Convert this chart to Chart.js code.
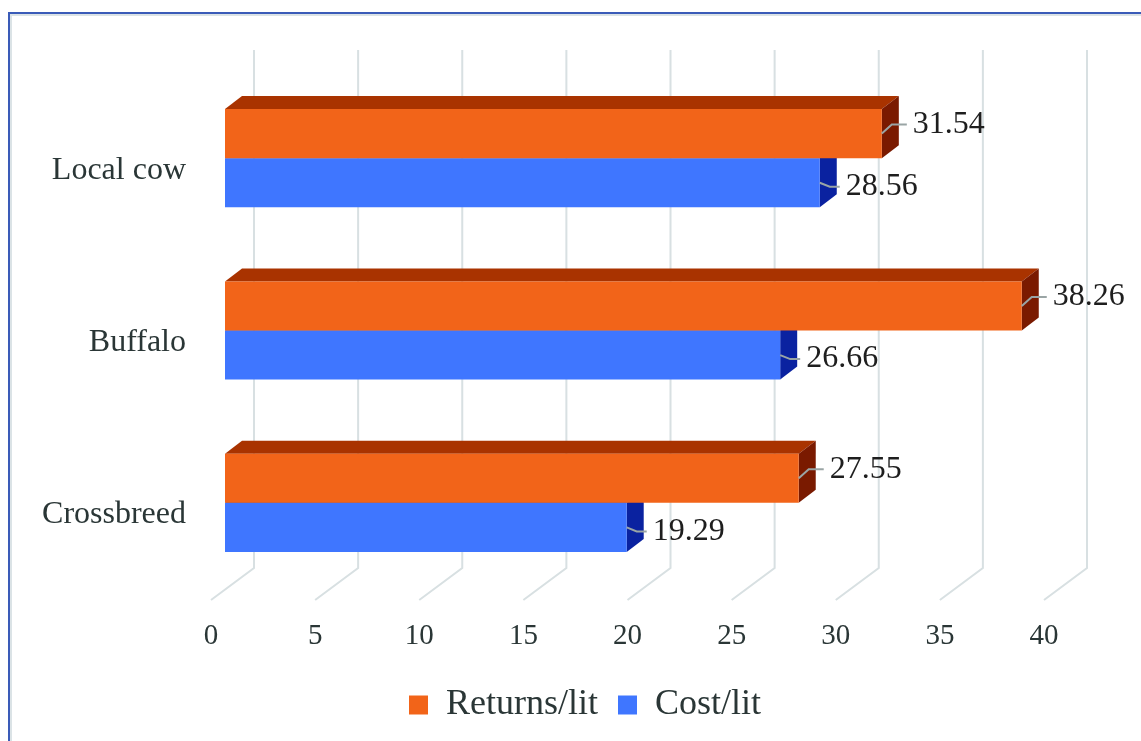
<!DOCTYPE html>
<html><head><meta charset="utf-8">
<script src="https://cdn.jsdelivr.net/npm/chart.js@4"></script>
<style>
html,body{margin:0;padding:0;background:#fff;overflow:hidden;width:1141px;height:741px}
#frame{position:absolute;left:8px;top:12px;width:1200px;height:800px;border:2px solid #3a5bb8;box-shadow:inset 2px 2px 0 #dbe3e6;}
#wrap{position:absolute;left:0;top:0;width:1141px;height:741px}
</style></head><body>
<div id="frame"></div>
<div id="wrap"><canvas id="c" width="1141" height="741"></canvas></div>
<script>
const categories = ['Local cow', 'Buffalo', 'Crossbreed'];
const returnsPerLit = [31.54, 38.26, 27.55];
const costPerLit = [28.56, 26.66, 19.29];
const xTickValues = [0, 5, 10, 15, 20, 25, 30, 35, 40];

const FONT = '"Liberation Serif", "Times New Roman", serif';
const TEXT = '#2a3636';
const FRONT = ['#F26419', '#3F76FF'];
const TOPC = ['#A93300', '#0B27A6'];
const SIDEC = ['#7A1A00', '#0A22A0'];

const threeD = {
  id: 'threeD',
  afterLayout(chart) {
    // let the category labels extend to the left of the (narrow) axis box
    chart.scales.y._computeLabelArea = function () { return undefined; };
  },
  beforeDatasetsDraw(chart) {
    const ctx = chart.ctx, xs = chart.scales.x, a = chart.chartArea;
    ctx.save();
    ctx.strokeStyle = '#d8e0e2';
    ctx.lineWidth = 2;
    xs.ticks.forEach(t => {
      const px = xs.getPixelForValue(t.value);
      ctx.beginPath();
      ctx.moveTo(px + 29, a.top - 22);
      ctx.lineTo(px + 29, a.bottom - 21);
      ctx.lineTo(px - 14, a.bottom + 11);
      ctx.stroke();
    });
    const dx = 17, dy = 13;
    for (let i = chart.data.datasets.length - 1; i >= 0; i--) {
      const meta = chart.getDatasetMeta(i);
      meta.data.forEach(bar => {
        const p = bar.getProps(['x', 'y', 'base', 'height'], true);
        const top = p.y - p.height / 2, bottom = p.y + p.height / 2;
        ctx.fillStyle = TOPC[i];
        ctx.beginPath();
        ctx.moveTo(p.base, top); ctx.lineTo(p.x, top);
        ctx.lineTo(p.x + dx, top - dy); ctx.lineTo(p.base + dx, top - dy);
        ctx.closePath(); ctx.fill();
        ctx.fillStyle = SIDEC[i];
        ctx.beginPath();
        ctx.moveTo(p.x, top); ctx.lineTo(p.x + dx, top - dy);
        ctx.lineTo(p.x + dx, bottom - dy); ctx.lineTo(p.x, bottom);
        ctx.closePath(); ctx.fill();
      });
    }
    ctx.restore();
  },
  afterDatasetsDraw(chart) {
    const ctx = chart.ctx;
    ctx.save();
    ctx.font = '32px ' + FONT;
    ctx.textAlign = 'left';
    ctx.textBaseline = 'middle';
    chart.data.datasets.forEach((ds, i) => {
      const meta = chart.getDatasetMeta(i);
      meta.data.forEach((bar, j) => {
        const p = bar.getProps(['x', 'y'], true);
        const lx = p.x + (i === 0 ? 31 : 26);
        const ly = p.y + (i === 0 ? -9 : 4);
        ctx.strokeStyle = '#9aa5a5';
        ctx.lineWidth = 2;
        ctx.beginPath();
        ctx.moveTo(p.x, p.y);
        ctx.lineTo(p.x + 10, ly);
        ctx.lineTo(lx - 6, ly);
        ctx.stroke();
        ctx.fillStyle = '#1e1e1e';
        ctx.fillText(ds.data[j].toFixed(2), lx, ly);
      });
    });
    ctx.restore();
  }
};

new Chart(document.getElementById('c'), {
  type: 'bar',
  data: {
    labels: categories,
    datasets: [
      { label: 'Returns/lit', data: returnsPerLit, backgroundColor: FRONT[0], categoryPercentage: 0.57, barPercentage: 1 },
      { label: 'Cost/lit', data: costPerLit, backgroundColor: FRONT[1], categoryPercentage: 0.57, barPercentage: 1 }
    ]
  },
  options: {
    indexAxis: 'y',
    responsive: false,
    animation: false,
    layout: { padding: { left: 112, right: 83, top: 72, bottom: 8 } },
    scales: {
      x: {
        min: 0, max: 40,
        afterBuildTicks: s => { s.ticks = xTickValues.map(v => ({ value: v })); },
        grid: { display: false, drawTicks: false },
        border: { display: false },
        ticks: { labelOffset: -14, padding: 30, color: TEXT, font: { family: FONT, size: 29 } },
        afterFit: s => { s.height = 78; }
      },
      y: {
        grid: { display: false, drawTicks: false },
        border: { display: false },
        ticks: { padding: 39, labelOffset: 12, color: TEXT, font: { family: FONT, size: 32 } },
        afterFit: s => { s.width = 113; }
      }
    },
    plugins: {
      legend: {
        position: 'bottom',
        labels: { boxWidth: 19, boxHeight: 19, padding: 20, color: TEXT, font: { family: FONT, size: 36 } }
      },
      tooltip: { enabled: false }
    }
  },
  plugins: [threeD]
});
</script>
</body></html>
